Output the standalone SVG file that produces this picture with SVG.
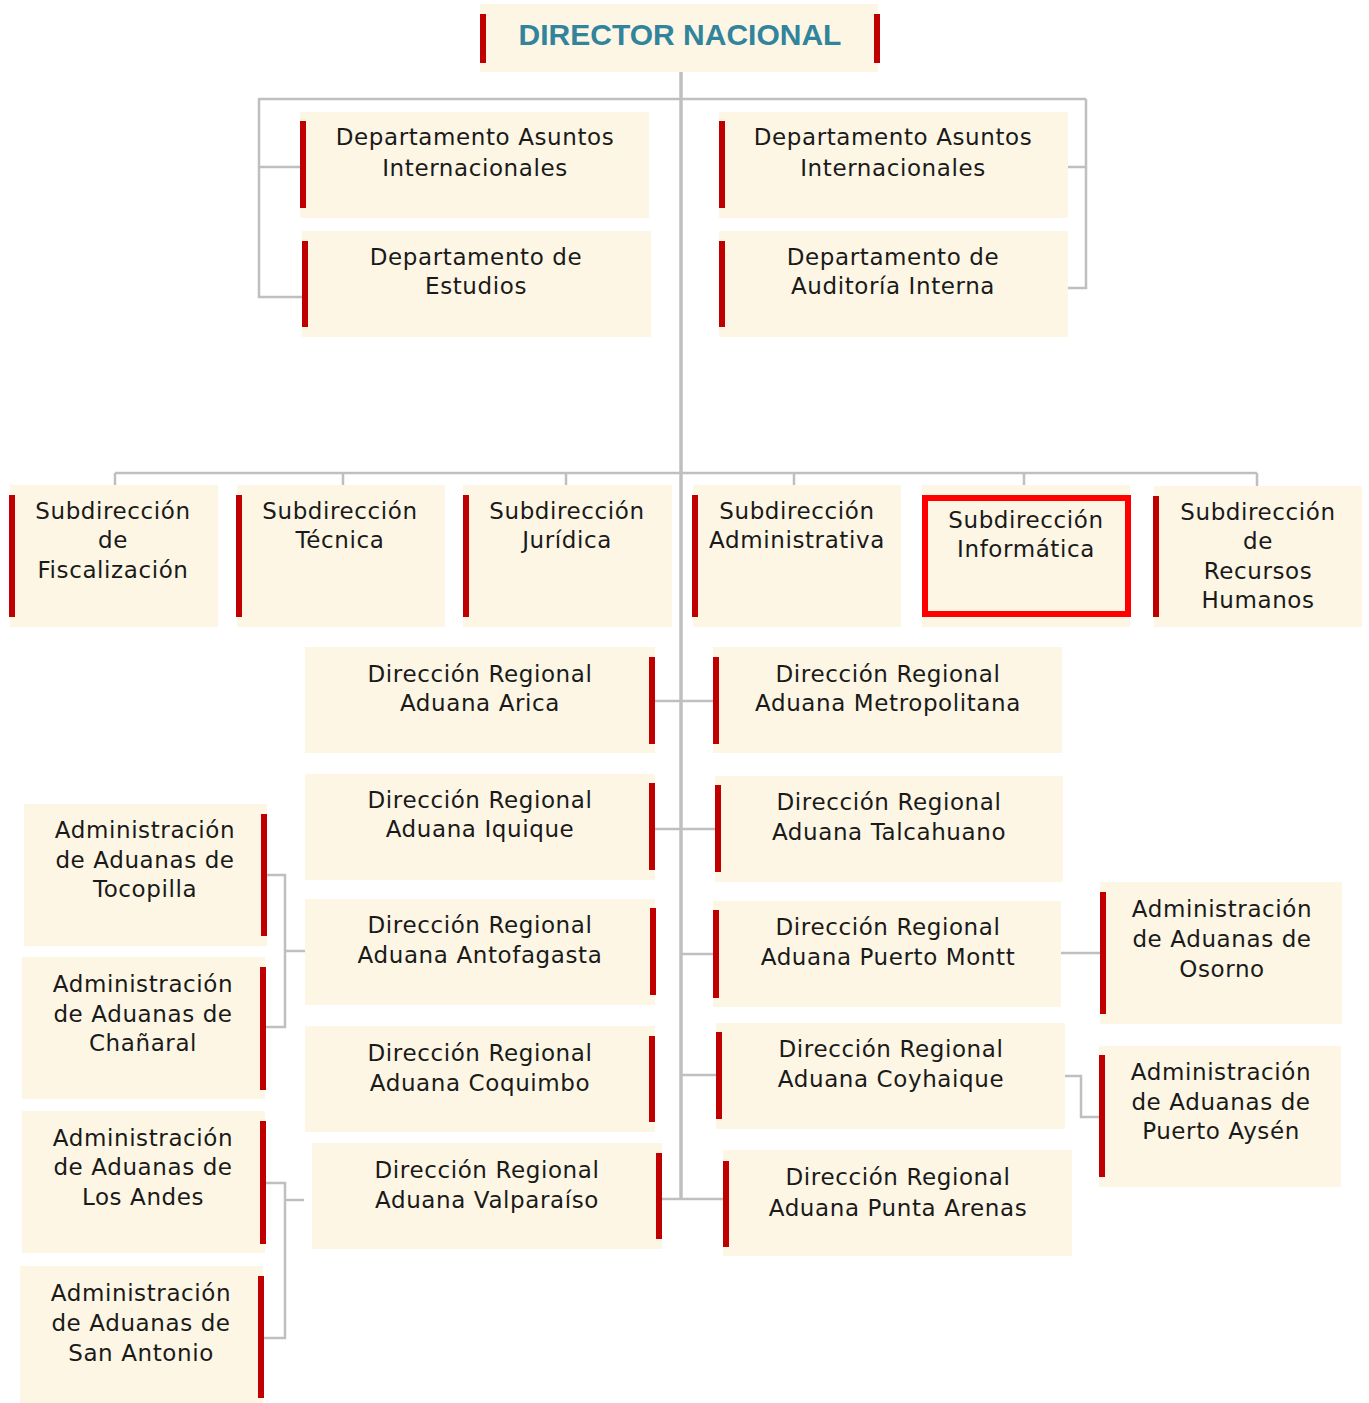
<svg xmlns="http://www.w3.org/2000/svg" width="1369" height="1403" viewBox="0 0 1369 1403">
<style>
.box{fill:#FDF6E4}
.bar{fill:#C00000}
.t{font-family:"DejaVu Sans","Liberation Sans",sans-serif;font-size:23px;letter-spacing:0.6px;fill:#1a1a1a;text-anchor:middle}
.h{font-family:"Liberation Sans",Arial,sans-serif;font-size:30px;font-weight:bold;fill:#31849B;text-anchor:middle}
.ln{fill:none;stroke:#BFBFBF;stroke-width:2.5}
.tr{fill:none;stroke:#BFBFBF;stroke-width:3.5}
.sel{fill:none;stroke:#FF0000;stroke-width:6}
</style>
<rect width="1369" height="1403" fill="#FFFFFF"/>
<g id="connectors">
<path class="tr" d="M681 72 V1199"/>
<path class="ln" d="M258 99 H1086"/>
<path class="ln" d="M259 99 V297 H302 M259 167 H300"/>
<path class="ln" d="M1086 99 V288 H1068 M1086 167 H1068"/>
<path class="ln" d="M115 473 H1257 M115 473 V485 M343 473 V485 M566 473 V485 M794 473 V485 M1024 473 V485 M1257 473 V486"/>
<path class="ln" d="M655 701 H713"/>
<path class="ln" d="M655 829 H715"/>
<path class="ln" d="M681 954 H713"/>
<path class="ln" d="M681 1075 H716"/>
<path class="ln" d="M662 1199 H723"/>
<path class="ln" d="M267 875 H285 V1027 H266 M285 951 H305"/>
<path class="ln" d="M266 1183 H285 V1338 H264 M285 1200 H304"/>
<path class="ln" d="M1061 953 H1100"/>
<path class="ln" d="M1065 1076 H1081 V1117 H1099"/>
</g>
<g id="director">
<rect class="box" x="480" y="4" width="398" height="68"/>
<rect class="bar" x="480" y="14" width="6" height="49"/>
<rect class="bar" x="874" y="14" width="6" height="49"/>
<text class="h" x="680" y="45">DIRECTOR NACIONAL</text>
</g>
<g id="dept-asuntos-1">
<rect class="box" x="300" y="112" width="349" height="106"/>
<rect class="bar" x="300" y="121" width="6" height="87"/>
<text class="t" x="475" y="145">Departamento Asuntos</text>
<text class="t" x="475" y="176">Internacionales</text>
</g>
<g id="dept-estudios">
<rect class="box" x="302" y="231" width="349" height="106"/>
<rect class="bar" x="302" y="241" width="6" height="86"/>
<text class="t" x="476" y="265">Departamento de</text>
<text class="t" x="476" y="294">Estudios</text>
</g>
<g id="dept-asuntos-2">
<rect class="box" x="719" y="112" width="349" height="106"/>
<rect class="bar" x="719" y="121" width="6" height="87"/>
<text class="t" x="893" y="145">Departamento Asuntos</text>
<text class="t" x="893" y="176">Internacionales</text>
</g>
<g id="dept-auditoria">
<rect class="box" x="719" y="231" width="349" height="106"/>
<rect class="bar" x="719" y="241" width="6" height="86"/>
<text class="t" x="893" y="265">Departamento de</text>
<text class="t" x="893" y="294">Auditoría Interna</text>
</g>
<g id="sub-fiscalizacion">
<rect class="box" x="10" y="485" width="208" height="142"/>
<rect class="bar" x="9" y="495" width="6" height="122"/>
<text class="t" x="113" y="519">Subdirección</text>
<text class="t" x="113" y="548">de</text>
<text class="t" x="113" y="578">Fiscalización</text>
</g>
<g id="sub-tecnica">
<rect class="box" x="237" y="485" width="208" height="142"/>
<rect class="bar" x="236" y="495" width="6" height="122"/>
<text class="t" x="340" y="519">Subdirección</text>
<text class="t" x="340" y="548">Técnica</text>
</g>
<g id="sub-juridica">
<rect class="box" x="463" y="485" width="209" height="142"/>
<rect class="bar" x="463" y="495" width="6" height="122"/>
<text class="t" x="567" y="519">Subdirección</text>
<text class="t" x="567" y="548">Jurídica</text>
</g>
<g id="sub-administrativa">
<rect class="box" x="693" y="485" width="208" height="142"/>
<rect class="bar" x="692" y="495" width="6" height="122"/>
<text class="t" x="797" y="519">Subdirección</text>
<text class="t" x="797" y="548">Administrativa</text>
</g>
<g id="sub-informatica">
<rect class="box" x="922" y="485" width="208" height="142"/>
<rect class="sel" x="925" y="498" width="203" height="116"/>
<text class="t" x="1026" y="528">Subdirección</text>
<text class="t" x="1026" y="557">Informática</text>
</g>
<g id="sub-rrhh">
<rect class="box" x="1154" y="486" width="208" height="141"/>
<rect class="bar" x="1153" y="496" width="6" height="121"/>
<text class="t" x="1258" y="520">Subdirección</text>
<text class="t" x="1258" y="549">de</text>
<text class="t" x="1258" y="579">Recursos</text>
<text class="t" x="1258" y="608">Humanos</text>
</g>
<g id="dr-arica">
<rect class="box" x="305" y="647" width="350" height="106"/>
<rect class="bar" x="649" y="657" width="6" height="87"/>
<text class="t" x="480" y="682">Dirección Regional</text>
<text class="t" x="480" y="711">Aduana Arica</text>
</g>
<g id="dr-metropolitana">
<rect class="box" x="713" y="647" width="349" height="106"/>
<rect class="bar" x="713" y="657" width="6" height="87"/>
<text class="t" x="888" y="682">Dirección Regional</text>
<text class="t" x="888" y="711">Aduana Metropolitana</text>
</g>
<g id="dr-iquique">
<rect class="box" x="305" y="774" width="350" height="106"/>
<rect class="bar" x="649" y="783" width="6" height="87"/>
<text class="t" x="480" y="808">Dirección Regional</text>
<text class="t" x="480" y="837">Aduana Iquique</text>
</g>
<g id="dr-talcahuano">
<rect class="box" x="715" y="776" width="348" height="106"/>
<rect class="bar" x="715" y="785" width="6" height="87"/>
<text class="t" x="889" y="810">Dirección Regional</text>
<text class="t" x="889" y="840">Aduana Talcahuano</text>
</g>
<g id="dr-antofagasta">
<rect class="box" x="305" y="899" width="350" height="106"/>
<rect class="bar" x="650" y="908" width="6" height="87"/>
<text class="t" x="480" y="933">Dirección Regional</text>
<text class="t" x="480" y="963">Aduana Antofagasta</text>
</g>
<g id="dr-coquimbo">
<rect class="box" x="305" y="1026" width="350" height="106"/>
<rect class="bar" x="649" y="1036" width="6" height="86"/>
<text class="t" x="480" y="1061">Dirección Regional</text>
<text class="t" x="480" y="1091">Aduana Coquimbo</text>
</g>
<g id="dr-puerto-montt">
<rect class="box" x="713" y="901" width="348" height="106"/>
<rect class="bar" x="713" y="910" width="6" height="88"/>
<text class="t" x="888" y="935">Dirección Regional</text>
<text class="t" x="888" y="965">Aduana Puerto Montt</text>
</g>
<g id="dr-coyhaique">
<rect class="box" x="716" y="1023" width="349" height="106"/>
<rect class="bar" x="716" y="1032" width="6" height="87"/>
<text class="t" x="891" y="1057">Dirección Regional</text>
<text class="t" x="891" y="1087">Aduana Coyhaique</text>
</g>
<g id="dr-valparaiso">
<rect class="box" x="312" y="1143" width="350" height="106"/>
<rect class="bar" x="656" y="1153" width="6" height="86"/>
<text class="t" x="487" y="1178">Dirección Regional</text>
<text class="t" x="487" y="1208">Aduana Valparaíso</text>
</g>
<g id="dr-punta-arenas">
<rect class="box" x="723" y="1150" width="349" height="106"/>
<rect class="bar" x="723" y="1161" width="6" height="86"/>
<text class="t" x="898" y="1185">Dirección Regional</text>
<text class="t" x="898" y="1216">Aduana Punta Arenas</text>
</g>
<g id="ad-tocopilla">
<rect class="box" x="24" y="804" width="243" height="142"/>
<rect class="bar" x="261" y="814" width="6" height="122"/>
<text class="t" x="145" y="838">Administración</text>
<text class="t" x="145" y="868">de Aduanas de</text>
<text class="t" x="145" y="897">Tocopilla</text>
</g>
<g id="ad-chanaral">
<rect class="box" x="22" y="957" width="243" height="142"/>
<rect class="bar" x="260" y="967" width="6" height="123"/>
<text class="t" x="143" y="992">Administración</text>
<text class="t" x="143" y="1022">de Aduanas de</text>
<text class="t" x="143" y="1051">Chañaral</text>
</g>
<g id="ad-los-andes">
<rect class="box" x="22" y="1111" width="243" height="142"/>
<rect class="bar" x="260" y="1121" width="6" height="123"/>
<text class="t" x="143" y="1146">Administración</text>
<text class="t" x="143" y="1175">de Aduanas de</text>
<text class="t" x="143" y="1205">Los Andes</text>
</g>
<g id="ad-san-antonio">
<rect class="box" x="20" y="1266" width="243" height="137"/>
<rect class="bar" x="258" y="1276" width="6" height="122"/>
<text class="t" x="141" y="1301">Administración</text>
<text class="t" x="141" y="1331">de Aduanas de</text>
<text class="t" x="141" y="1361">San Antonio</text>
</g>
<g id="ad-osorno">
<rect class="box" x="1100" y="882" width="242" height="142"/>
<rect class="bar" x="1100" y="892" width="6" height="122"/>
<text class="t" x="1222" y="917">Administración</text>
<text class="t" x="1222" y="947">de Aduanas de</text>
<text class="t" x="1222" y="977">Osorno</text>
</g>
<g id="ad-puerto-aysen">
<rect class="box" x="1099" y="1046" width="242" height="141"/>
<rect class="bar" x="1099" y="1055" width="6" height="122"/>
<text class="t" x="1221" y="1080">Administración</text>
<text class="t" x="1221" y="1110">de Aduanas de</text>
<text class="t" x="1221" y="1139">Puerto Aysén</text>
</g>
</svg>
